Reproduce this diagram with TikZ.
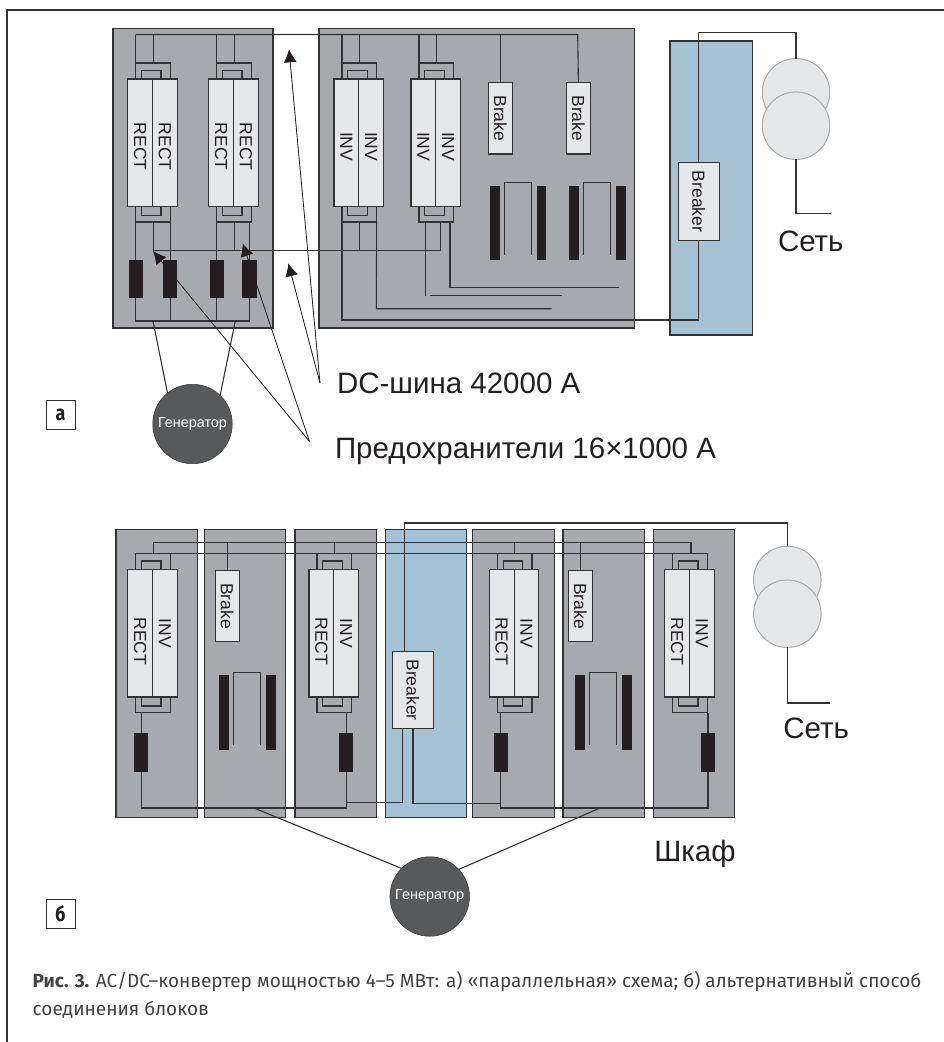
\documentclass[tikz,border=0pt]{standalone}
\usepackage{fontspec}
\setmainfont{Liberation Sans}
\newfontfamily\capfont{Fira Sans}
\newfontfamily\tagfont[FakeStretch=0.85]{Fira Sans}
\usepackage{graphicx}
\usetikzlibrary{arrows.meta}
\definecolor{cabgray}{HTML}{A7A9AC}
\definecolor{wirecol}{HTML}{333333}
\definecolor{boxlight}{HTML}{E6E7E8}
\definecolor{cabblue}{HTML}{A6C3D5}
\definecolor{gendark}{HTML}{58595B}
\definecolor{fuseblack}{HTML}{231F20}
\begin{document}
\begin{tikzpicture}[
    x=1pt, y=-1pt,
    >={Latex[length=13pt,width=13pt]},
    wire/.style={draw=wirecol, line width=1.1pt},
    every node/.style={inner sep=0pt, outer sep=0pt},
    cabinet/.style={rectangle, draw=wirecol, fill=cabgray, line width=1.1pt, anchor=north west},
    bluecab/.style={rectangle, draw=wirecol, fill=cabblue, line width=1.1pt, anchor=north west},
    wirebox/.style={rectangle, draw=wirecol, line width=1.1pt, minimum width=#1},
    halfbox/.style={rectangle, draw=wirecol, fill=boxlight, line width=1.1pt, minimum width=24.75pt, minimum height=127.3pt, text=fuseblack, font=\fontsize{17.5}{18}\selectfont},
    brakebox/.style={rectangle, draw=wirecol, fill=boxlight, line width=1.1pt, minimum width=23.7pt, minimum height=71.5pt, text=fuseblack, font=\fontsize{17.5}{18}\selectfont},
    breakerbox/.style={rectangle, draw=wirecol, fill=boxlight, line width=1.1pt, minimum width=40.7pt, minimum height=77.5pt, text=fuseblack, font=\fontsize{17.5}{18}\selectfont},
    fuse/.style={rectangle, fill=fuseblack, minimum width=14.4pt, minimum height=38.5pt},
    bar/.style={rectangle, fill=fuseblack, minimum width=9.5pt, minimum height=74.5pt},
    gen/.style={circle, draw=wirecol, fill=gendark, line width=.5pt, minimum size=79.5pt, text=white, font=\fontsize{14.4}{15}\selectfont},
    trafo/.style={circle, draw=cabgray, fill=boxlight, line width=1pt, minimum size=67.5pt},
    bigtext/.style={anchor=base west, text=fuseblack, font=\fontsize{29.5}{30}\selectfont},
    tag/.style={rectangle, draw=wirecol, line width=.9pt, minimum size=29pt, text=fuseblack, font=\tagfont\bfseries\fontsize{21}{21}\selectfont},
    caption/.style={anchor=base west, text=fuseblack!85, font=\capfont\fontsize{19}{20}\selectfont},
    pointer/.style={draw=fuseblack, fill=fuseblack, line width=.8pt, ->}
]
\useasboundingbox (0,0) rectangle (944,1042);
\coordinate (fL) at (7,1042);
\coordinate (fC) at (7,10);
\coordinate (fR) at (944,10);
\draw[wire] (fL) -- (fC) -- (fR);

% cabinets
\node[cabinet, minimum width=160pt, minimum height=299.5pt] (cabA1) at (113,28.5) {};
\node[cabinet, minimum width=315.3pt, minimum height=299.5pt] (cabA2) at (319,28.5) {};
\node[bluecab, minimum width=82.7pt, minimum height=294pt] (cabA3) at (670,41) {};
\foreach \n/\x in {cabB1/116, cabB2/204.3, cabB3/295, cabB5/472.7, cabB6/563, cabB7/653.3}
    \node[cabinet, minimum width=81.5pt, minimum height=288pt] (\n) at (\x,529.3) {};
\node[bluecab, minimum width=81pt, minimum height=288pt] (cabB4) at (385.7,529.3) {};

% converter blocks
\foreach \n/\x/\y/\tl/\tr/\oa/\ob in {
    ma/127.7/79/RECT/RECT/8/8, mb/208.7/79/RECT/RECT/8/8,
    ia/334/79/INV/INV/8/8, ib/411/79/INV/INV/8/8,
    ua/127.7/569.7/RECT/INV/16/0, ub/309/569.7/RECT/INV/16/0,
    uc/489.3/569.7/RECT/INV/16/0, ud/664.7/569.7/RECT/INV/16/0} {
    \node[wirebox=34.7pt, minimum height=16pt, anchor=south west] (\n-to) at (\x+8,\y) {};
    \node[wirebox=19.5pt, minimum height=8.7pt, anchor=south west] (\n-ti) at (\x+13.8,\y) {};
    \node[wirebox=34.7pt, minimum height=15.7pt, anchor=north west] (\n-bo) at (\x+8,\y+127.3) {};
    \node[wirebox=19.5pt, minimum height=9pt, anchor=north west] (\n-bi) at (\x+13.8,\y+127.3) {};
    \node[halfbox, anchor=north west] (\n-l) at (\x,\y) {\rotatebox{-90}{\kern\oa pt\tl}};
    \node[halfbox, anchor=north west] (\n-r) at (\x+24.75,\y) {\rotatebox{-90}{\kern\ob pt\tr}};
}

\foreach \n/\x/\y in {bra/500.3/118.2, brb/578.4/118.2, brc/227.2/606, brd/580.3/606}
    \node[brakebox] (\n) at (\x,\y) {\rotatebox{-90}{Brake}};
\node[breakerbox] (bka) at (698.7,201.5) {\rotatebox{-90}{Breaker}};
\node[breakerbox] (bkb) at (413,690) {\rotatebox{-90}{Breaker}};

\foreach \n/\x/\y in {fa/135.8/279.2, fb/170.2/279.2, fc/216.8/279.2, fd/249.3/279.2,
    fe/141.2/752.4, ff/346.2/752.4, fg/500.8/752.4, fh/708/752.4}
    \node[fuse] (\n) at (\x,\y) {};

% chokes
\foreach \n/\x/\y in {cha/490/185.5, chb/569.3/185.5, chc/219.3/675.3, chd/575.3/675.3} {
    \node[bar, anchor=north west] (\n-l) at (\x,\y) {};
    \node[bar, anchor=north west] (\n-r) at (\x+46.8,\y) {};
    \coordinate (\n-a) at (\x+14.4,\y+69.3);
    \coordinate (\n-b) at (\x+14.4,\y-3.1);
    \coordinate (\n-c) at (\x+41.6,\y-3.1);
    \coordinate (\n-d) at (\x+41.6,\y+69.3);
    \draw[wire] (\n-a) -- (\n-b) -- (\n-c) -- (\n-d);
}

\node[gen] (gena) at (192.5,424) {Генератор};
\node[gen] (genb) at (429.7,896.5) {Генератор};
\node[trafo] (traA1) at (796,92.3) {};
\node[trafo] (traA2) at (796,125.7) {};
\node[trafo] (traB1) at (787.3,580) {};
\node[trafo] (traB2) at (787.3,613.7) {};

% wiring a
\coordinate (busA) at (135.7,34.5);
\coordinate (busAe) at (577.7,34.5);
\coordinate (dcbus) at (152.7,250.7);
\coordinate (dcbuse) at (440.3,250.7);
\coordinate (botA) at (135.8,321);
\coordinate (tapA1) at (153,321);
\coordinate (tapA2) at (235.3,321);
\coordinate (iaE) at (376.3,308.7);
\coordinate (iaEe) at (551.7,308.7);
\coordinate (ibA) at (425.3,222);
\coordinate (ibAe) at (425.3,295.7);
\coordinate (barS) at (430,295.7);
\coordinate (barE) at (562.3,295.7);
\coordinate (ibB) at (440.3,222);
\coordinate (ibC) at (450,222);
\coordinate (ibCm) at (450,287.3);
\coordinate (ibCe) at (618.7,287.3);
\coordinate (retA) at (342,320);
\coordinate (netA) at (796,32.3);
\coordinate (netAo) at (796,213.7);
\coordinate (netAe) at (830.7,213.7);
\draw[wire] (busA) -- (busAe) -- (brb.north);
\draw[wire] (bra.north) -- (bra.north |- busA);
\foreach \n in {ma,mb,ia,ib} {
    \draw[wire] (\n-to.north west) -- (\n-to.north west |- busA);
    \draw[wire] (\n-to.north) -- (\n-to.north |- busA);
}
\draw[wire] (dcbus) -- (dcbuse) -- (ibB);
\foreach \n in {ma,mb,ia}
    \draw[wire] (\n-bo.south) -- (\n-bo.south |- dcbus);
\draw[wire] (fa.north) -- (fa.north |- ma-bo.south);
\draw[wire] (fb.north) -- (fb.north |- ma-bo.south);
\draw[wire] (fc.north) -- (fc.north |- mb-bo.south);
\draw[wire] (fd.north) -- (fd.north |- mb-bo.south);
\draw[wire] (fa.south) -- (botA) -- (botA -| fd.south) -- (fd.south);
\draw[wire] (fb.south) -- (fb.south |- botA);
\draw[wire] (fc.south) -- (fc.south |- botA);
\draw[wire] (tapA1) -- (gena.129);
\draw[wire] (tapA2) -- (gena.46);
\draw[wire] (ia-bo.south west) -- (retA) -- (retA -| bka.south) -- (bka.south);
\draw[wire] (ia-bo.south east) -- (iaE) -- (iaEe);
\draw[wire] (ibA) -- (ibAe);
\draw[wire] (barS) -- (barE);
\draw[wire] (ibC) -- (ibCm) -- (ibCe);
\draw[wire] (bka.north) -- (bka.north |- netA) -- (netA) -- (traA1.north);
\draw[wire] (traA2.south) -- (netAo) -- (netAe);

% wiring b
\coordinate (busB1) at (152.7,542.3);
\coordinate (busB1e) at (691,542.3);
\coordinate (busB2) at (135.7,553.7);
\coordinate (busB2e) at (706.7,553.7);
\coordinate (botB) at (141.2,808);
\coordinate (botBm) at (346.2,808);
\coordinate (botC) at (500.8,808);
\coordinate (botCe) at (708,808);
\coordinate (tapB1) at (254,808);
\coordinate (tapB2) at (600,808);
\coordinate (retB1) at (346.2,802.7);
\coordinate (retB1e) at (402.7,802.7);
\coordinate (retB1u) at (402.7,728.7);
\coordinate (retB2) at (413,803.7);
\coordinate (retB2e) at (500.8,803.7);
\coordinate (netB) at (787.3,523);
\coordinate (netBo) at (787.3,703);
\coordinate (netBe) at (830,703);
\coordinate (bkbT) at (404.3,651.3);
\draw[wire] (busB1) -- (busB1e) -- (busB1e |- busB2);
\draw[wire] (busB2) -- (busB2e);
\foreach \n in {ua,ub,uc}
    \draw[wire] (\n-to.north) -- (\n-to.north |- busB1);
\draw[wire] (brc.north) -- (brc.north |- busB1);
\draw[wire] (brd.north) -- (brd.north |- busB1);
\draw[wire] (fe.north) -- (fe.north |- ua-bo.south);
\draw[wire] (ff.north) -- (ff.north |- ub-bo.south);
\draw[wire] (fg.north) -- (fg.north |- uc-bo.south);
\draw[wire] (fh.north) -- (fh.north |- ud-bo.south);
\draw[wire] (fe.south) -- (botB) -- (botBm) -- (ff.south);
\draw[wire] (fg.south) -- (botC) -- (botCe) -- (fh.south);
\draw[wire] (tapB1) -- (genb.135);
\draw[wire] (tapB2) -- (genb.43);
\draw[wire] (retB1) -- (retB1e) -- (retB1u);
\draw[wire] (bkb.south) -- (retB2) -- (retB2e);
\draw[wire] (bkbT) -- (bkbT |- netB) -- (netB) -- (traB1.north);
\draw[wire] (traB2.south) -- (netBo) -- (netBe);

% pointers
\coordinate (dcfrom) at (320,383);
\coordinate (dctip1) at (289,49.3);
\coordinate (dctip2) at (288.3,263.3);
\coordinate (prfrom) at (309.5,441.5);
\coordinate (prtip1) at (153,251);
\coordinate (prtip2) at (242.7,243.3);
\draw[pointer] (dcfrom) -- (dctip1);
\draw[pointer] (dcfrom) -- (dctip2);
\draw[pointer] (prfrom) -- (prtip1);
\draw[pointer] (prfrom) -- (prtip2);

% labels
\node[bigtext] (lbdc) at (337,393) {DC-шина 42000 А};
\node[bigtext] (lbpr) at (335,458.3) {Предохранители 16×1000 А};
\node[bigtext] (lbneta) at (778,251) {Сеть};
\node[bigtext] (lbnetb) at (783.3,738.3) {Сеть};
\node[bigtext] (lbcab) at (654.3,861) {Шкаф};
\node[tag] (taga) at (60.5,414.5) {а};
\node[tag] (tagb) at (60.5,913.7) {б};
\node[caption] (cap1) at (32.7,987) {\textbf{Рис. 3.} AC/DC–конвертер мощностью 4–5 МВт: а) «параллельная» схема; б) альтернативный способ};
\node[caption] (cap2) at (32.7,1015) {соединения блоков};
\end{tikzpicture}
\end{document}
